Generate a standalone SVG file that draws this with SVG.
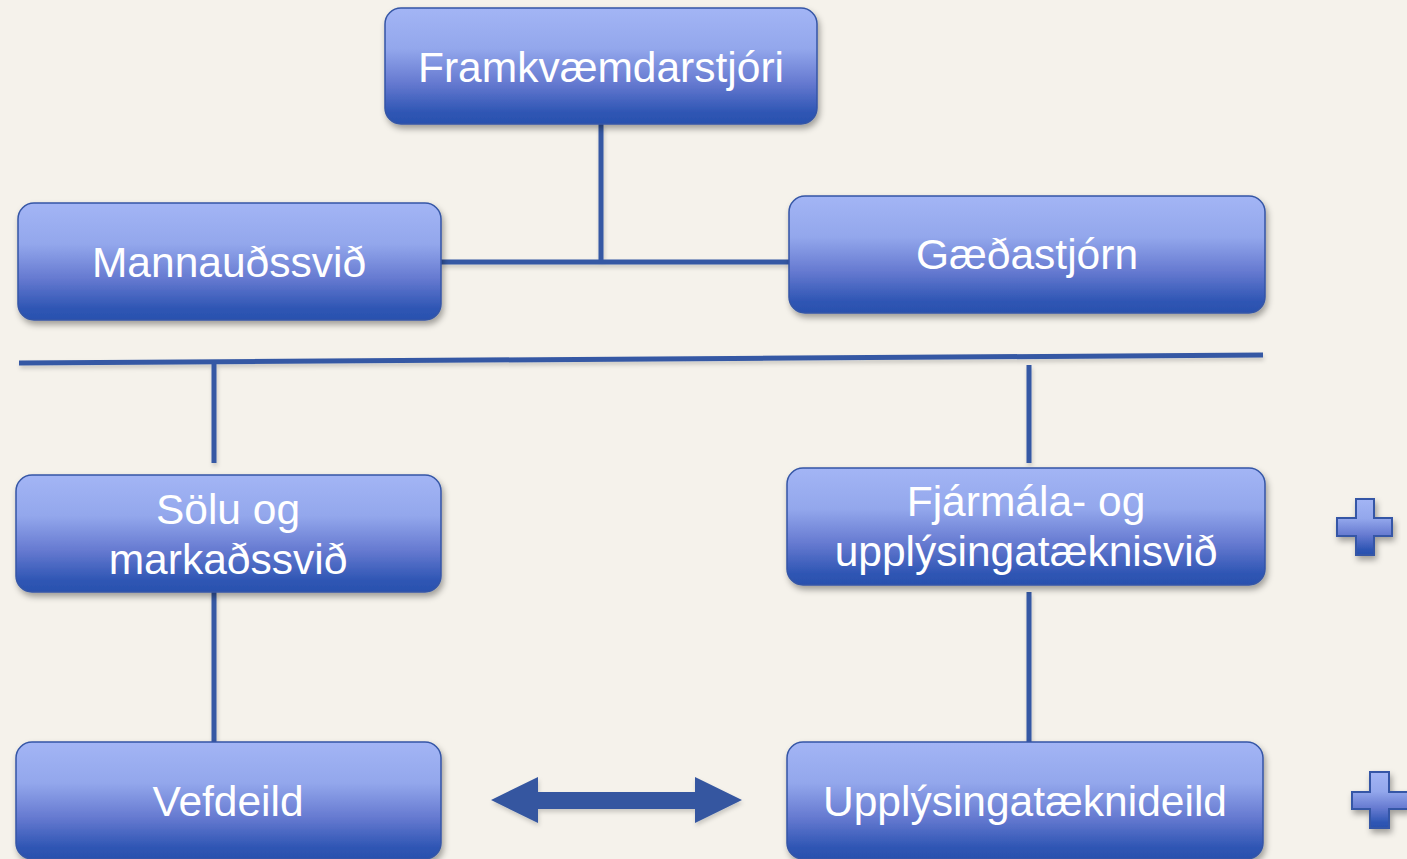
<svg xmlns="http://www.w3.org/2000/svg" width="1407" height="859" viewBox="0 0 1407 859">
<defs>
<linearGradient id="boxGrad" x1="0" y1="0" x2="0" y2="1">
<stop offset="0" stop-color="#A3B5F5"/>
<stop offset="0.35" stop-color="#93A7EC"/>
<stop offset="0.65" stop-color="#6579D0"/>
<stop offset="0.9" stop-color="#2F56B4"/>
<stop offset="1" stop-color="#2A50AE"/>
</linearGradient>
<filter id="shadow" x="-10%" y="-10%" width="125%" height="130%">
<feDropShadow dx="2" dy="4" stdDeviation="3" flood-color="#000" flood-opacity="0.35"/>
</filter>
<filter id="lineShadow" filterUnits="userSpaceOnUse" x="0" y="0" width="1407" height="859">
<feDropShadow dx="1" dy="3" stdDeviation="2" flood-color="#000" flood-opacity="0.18"/>
</filter>
</defs>
<style>
.box{fill:url(#boxGrad);stroke:#3556A6;stroke-width:1.5;filter:url(#shadow)}
.lbl{font-family:"Liberation Sans",Arial,Helvetica,sans-serif;font-size:42.5px;fill:#FFFFFF;text-anchor:middle}
.conn{stroke:#3558A4;stroke-width:5;fill:none}
.plus{fill:url(#boxGrad);stroke:#3556A6;stroke-width:2;filter:url(#shadow)}
</style>
<rect x="0" y="0" width="1407" height="859" fill="#F5F2EB"/>

<g id="connectors" filter="url(#lineShadow)">
<line class="conn" x1="601" y1="124" x2="601" y2="262"/>
<line class="conn" x1="441" y1="262" x2="789" y2="262"/>
<line class="conn" x1="19" y1="363" x2="1263" y2="355"/>
<line class="conn" x1="214" y1="363" x2="214" y2="463"/>
<line class="conn" x1="1029" y1="365" x2="1029" y2="463"/>
<line class="conn" x1="214" y1="592" x2="214" y2="742"/>
<line class="conn" x1="1029" y1="592" x2="1029" y2="742"/>
<polygon id="double-arrow" points="491,800 538,777 538,792 695,792 695,777 742,800 695,823 695,809 538,809 538,823" fill="#3557A0"/>
</g>

<g id="framkvaemdarstjori">
<rect class="box" x="385" y="8" width="432" height="116" rx="16"/>
<text class="lbl" x="601" y="82">Framkvæmdarstjóri</text>
</g>

<g id="mannaudssvid">
<rect class="box" x="18" y="203" width="423" height="117" rx="16"/>
<text class="lbl" x="229" y="277">Mannauðssvið</text>
</g>

<g id="gaedastjorn">
<rect class="box" x="789" y="196" width="476" height="117" rx="16"/>
<text class="lbl" x="1027" y="269">Gæðastjórn</text>
</g>

<g id="solu-og-markadssvid">
<rect class="box" x="16" y="475" width="425" height="117" rx="16"/>
<text class="lbl" x="228" y="524">Sölu og</text>
<text class="lbl" x="228" y="574">markaðssvið</text>
</g>

<g id="fjarmala-og-upplysingataeknisvid">
<rect class="box" x="787" y="468" width="478" height="117" rx="16"/>
<text class="lbl" x="1026" y="516">Fjármála- og</text>
<text class="lbl" x="1026" y="566">upplýsingatæknisvið</text>
</g>

<g id="vefdeild">
<rect class="box" x="16" y="742" width="425" height="117" rx="16"/>
<text class="lbl" x="228" y="816">Vefdeild</text>
</g>

<g id="upplysingataeknideild">
<rect class="box" x="787" y="742" width="476" height="117" rx="16"/>
<text class="lbl" x="1025" y="816">Upplýsingatæknideild</text>
</g>

<g id="plus-1">
<path class="plus" d="M1356,499 H1374 V518 H1392 V536 H1374 V555 H1356 V536 H1337 V518 H1356 Z"/>
</g>
<g id="plus-2">
<path class="plus" d="M1370,772 H1389 V792 H1408 V809 H1389 V828 H1370 V809 H1352 V792 H1370 Z"/>
</g>
</svg>
